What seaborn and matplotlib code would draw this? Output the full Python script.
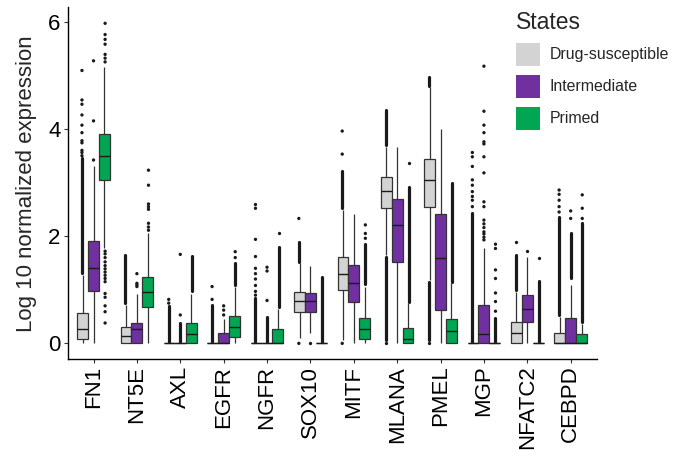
import pandas as pd
import seaborn as sns
import matplotlib.pyplot as plt
from matplotlib.patches import Patch

genes = ["FN1", "NT5E", "AXL", "EGFR", "NGFR", "SOX10", "MITF", "MLANA",
         "PMEL", "MGP", "NFATC2", "CEBPD"]
states = ["Drug-susceptible", "Intermediate", "Primed"]
colors = ["#D3D3D3", "#7030A0", "#00A651"]

# lower whisker, q1, median, q3, upper whisker (one row per gene)
box_drug = [
    [0.00, 0.075, 0.26, 0.57, 1.28],
    [0.00, 0.00, 0.14, 0.30, 0.72],
    [0, 0, 0, 0, 0],
    [0, 0, 0, 0, 0],
    [0, 0, 0, 0, 0],
    [0.10, 0.59, 0.79, 0.96, 1.49],
    [0.06, 0.99, 1.30, 1.62, 2.48],
    [1.65, 2.52, 2.84, 3.11, 3.67],
    [1.18, 2.54, 3.05, 3.43, 4.79],
    [0, 0, 0, 0, 0],
    [0.00, 0.00, 0.20, 0.40, 0.95],
    [0.00, 0.00, 0.00, 0.20, 0.50],
]
box_inter = [
    [0.00, 0.98, 1.40, 1.91, 3.30],
    [0.00, 0.00, 0.26, 0.38, 0.93],
    [0, 0, 0, 0, 0],
    [0.00, 0.00, 0.00, 0.19, 0.45],
    [0, 0, 0, 0, 0],
    [0.20, 0.58, 0.79, 0.94, 1.44],
    [0.00, 0.78, 1.12, 1.46, 2.41],
    [0.00, 1.51, 2.20, 2.69, 3.67],
    [0.00, 0.62, 1.59, 2.41, 3.99],
    [0.00, 0.00, 0.18, 0.71, 1.78],
    [0.00, 0.39, 0.65, 0.90, 1.62],
    [0.00, 0.00, 0.00, 0.47, 1.09],
]
box_primed = [
    [1.77, 3.05, 3.50, 3.90, 5.16],
    [0.00, 0.67, 0.96, 1.23, 2.05],
    [0.00, 0.00, 0.17, 0.38, 0.93],
    [0.00, 0.11, 0.31, 0.51, 1.06],
    [0.00, 0.00, 0.00, 0.26, 0.65],
    [0, 0, 0, 0, 0],
    [0.00, 0.09, 0.26, 0.48, 1.06],
    [0.00, 0.00, 0.09, 0.29, 0.75],
    [0.00, 0.00, 0.23, 0.45, 1.12],
    [0, 0, 0, 0, 0],
    [0, 0, 0, 0, 0],
    [0.00, 0.00, 0.00, 0.17, 0.37],
]

# single outlier points
out_drug = {
    "FN1": [3.50, 3.56, 3.60, 3.74, 3.78, 3.93, 4.07, 4.26, 4.46, 4.54, 5.09],
    "AXL": [0.75, 0.82],
    "EGFR": [0.82, 1.06],
    "NGFR": [0.90, 0.97, 1.08, 1.20, 1.30, 1.40, 1.62, 1.94, 2.52, 2.59],
    "SOX10": [0.0, 2.33],
    "MITF": [0.0, 3.53, 3.96],
    "MLANA": [0.0],
    "PMEL": [0.0],
    "MGP": [2.55, 2.67, 2.74, 2.83, 2.95, 3.05, 3.30, 3.48, 3.56],
    "NFATC2": [1.90],
    "CEBPD": [2.45, 2.55, 2.67, 2.78, 2.86],
}
out_inter = {
    "FN1": [3.42, 4.15, 5.27],
    "NT5E": [1.06, 1.09, 1.12, 1.30],
    "AXL": [0.53, 1.66],
    "EGFR": [0.53, 0.62, 0.70],
    "NGFR": [0.80, 1.35, 1.42],
    "SOX10": [0.0],
    "MGP": [1.93, 1.98, 2.04, 2.08, 2.16, 2.23, 2.30, 2.55, 2.64, 3.18,
            3.48, 3.72, 3.76, 3.93, 4.07, 4.33, 5.17],
    "NFATC2": [1.73],
    "CEBPD": [2.33, 2.47],
}
out_primed = {
    "FN1": [0.38, 0.59, 0.70, 0.86, 0.93, 1.15, 1.21, 1.27, 1.33, 1.39, 1.45,
            1.52, 1.60, 1.67, 1.72, 5.25, 5.32, 5.39, 5.58, 5.67, 5.76, 5.97],
    "NT5E": [2.11, 2.17, 2.24, 2.50, 2.55, 2.60, 2.95, 3.23],
    "EGFR": [1.60, 1.71],
    "NGFR": [2.06],
    "MITF": [1.96, 2.05, 2.21],
    "MLANA": [3.36],
    "MGP": [0.60, 0.78, 0.94, 1.21, 1.37, 1.77, 1.85],
    "NFATC2": [1.59],
    "CEBPD": [2.33, 2.52, 2.77],
}

# runs of outliers so dense they merge into a line (low, high)
band_drug = {
    "FN1": [(1.32, 3.45)],
    "NT5E": [(0.76, 1.65)],
    "AXL": [(0.03, 0.70)],
    "EGFR": [(0.03, 0.72)],
    "NGFR": [(0.03, 0.85)],
    "SOX10": [(1.52, 1.90)],
    "MITF": [(2.52, 3.22)],
    "MLANA": [(3.70, 4.35), (0.06, 1.62)],
    "PMEL": [(4.80, 4.96), (0.06, 1.15)],
    "MGP": [(0.03, 2.43)],
    "NFATC2": [(0.99, 1.65)],
    "CEBPD": [(0.52, 2.36)],
}
band_inter = {
    "AXL": [(0.03, 0.38)],
    "NGFR": [(0.03, 0.50)],
    "CEBPD": [(1.21, 2.05)],
}
band_primed = {
    "AXL": [(0.98, 1.63)],
    "EGFR": [(1.09, 1.50)],
    "NGFR": [(0.68, 1.80)],
    "SOX10": [(0.03, 1.24)],
    "MITF": [(1.10, 1.85)],
    "MLANA": [(0.78, 2.92)],
    "PMEL": [(1.15, 3.00)],
    "MGP": [(0.03, 0.47)],
    "NFATC2": [(0.03, 1.16)],
    "CEBPD": [(0.40, 2.24)],
}

rows = []
for st, boxes in zip(states, [box_drug, box_inter, box_primed]):
    for g, vals in zip(genes, boxes):
        for v in vals:
            rows.append((g, st, v))
df = pd.DataFrame(rows, columns=["gene", "state", "value"])

orows = []
for st, outs in zip(states, [out_drug, out_inter, out_primed]):
    for g, vals in outs.items():
        for v in vals:
            orows.append((g, st, v))
out_df = pd.DataFrame(orows, columns=["gene", "state", "value"])

sns.set_style("ticks")
plt.rcParams["font.family"] = ["Liberation Sans", "DejaVu Sans"]

fig = plt.figure(figsize=(6.75, 4.51), dpi=100)
ax = fig.add_axes([0.100, 0.203, 0.784, 0.781])

dot = "#1a1a1a"
sns.boxplot(data=df, x="gene", y="value", hue="state", order=genes,
            hue_order=states, palette=colors, saturation=1, whis=(0, 100),
            showfliers=False, showcaps=False, width=0.75, gap=0,
            linewidth=0.9, linecolor="#333333", legend=False, ax=ax,
            medianprops={"color": dot, "linewidth": 1.0})
sns.stripplot(data=out_df, x="gene", y="value", hue="state", order=genes,
              hue_order=states, dodge=True, jitter=False,
              palette=[dot] * 3, size=2.4, legend=False, ax=ax, zorder=1)

# dense outlier runs, placed at the same dodge offsets as the strips
step = 0.8 / len(states)
for k, bands in enumerate([band_drug, band_inter, band_primed]):
    for g, segs in bands.items():
        x = genes.index(g) + (k - 1) * step
        for lo, hi in segs:
            ax.vlines(x, lo, hi, color=dot, linewidth=2.3, capstyle="round",
                      zorder=1)

ax.set_xlim(-0.6, 11.6)
ax.set_ylim(-0.30, 6.27)
ax.set_yticks([0, 2, 4, 6])
ax.set_xlabel("")
ax.set_ylabel("Log 10 normalized expression", fontsize=16, labelpad=8)
ax.tick_params(axis="both", length=3, width=0.8, color="#333333",
               labelsize=16, labelcolor="black")
ax.tick_params(axis="y", pad=2)
ax.tick_params(axis="x", labelrotation=90, pad=1.5)
for s in ["top", "right"]:
    ax.spines[s].set_visible(False)
for s in ["left", "bottom"]:
    ax.spines[s].set_color("black")
    ax.spines[s].set_linewidth(1.0)

handles = [Patch(facecolor=c, edgecolor="none", label=s)
           for c, s in zip(colors, states)]
leg = fig.legend(handles=handles, title="States", loc="upper left",
                 bbox_to_anchor=(0.764, 0.975), frameon=False, fontsize=11.4,
                 title_fontsize=16.5, handlelength=1.52, handleheight=1.86,
                 labelspacing=0.57, handletextpad=0.62, borderpad=0,
                 borderaxespad=0)
leg._legend_box.align = "left"
leg._legend_box.sep = 6

fig.savefig("out.png", dpi=100)
